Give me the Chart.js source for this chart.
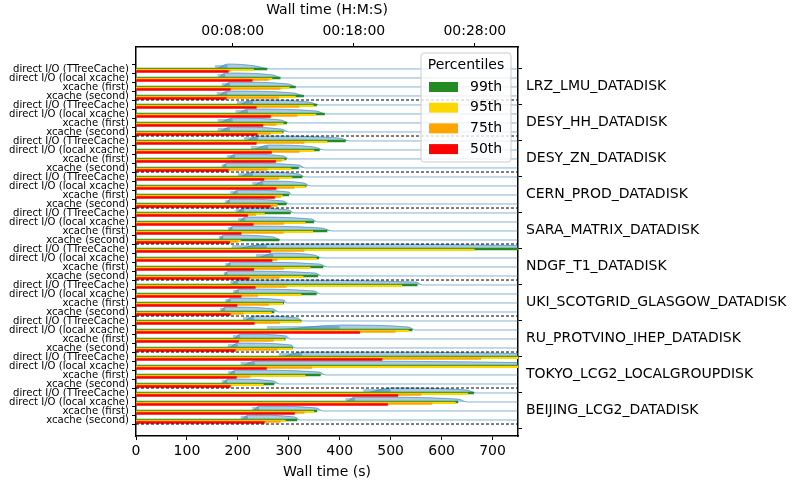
<!DOCTYPE html>
<html>
<head>
<meta charset="utf-8">
<script src="https://cdn.jsdelivr.net/npm/chart.js@4.4.1/dist/chart.umd.min.js"></script>
<style>
  html, body { margin: 0; padding: 0; background: #fff; }
</style>
</head>
<body>
<canvas id="chart" width="795" height="483"></canvas>
<script>
// sites (right axis) and access modes (left axis, repeated for each site)
const sites = ['LRZ_LMU_DATADISK', 'DESY_HH_DATADISK', 'DESY_ZN_DATADISK', 'CERN_PROD_DATADISK',
  'SARA_MATRIX_DATADISK', 'NDGF_T1_DATADISK', 'UKI_SCOTGRID_GLASGOW_DATADISK',
  'RU_PROTVINO_IHEP_DATADISK', 'TOKYO_LCG2_LOCALGROUPDISK', 'BEIJING_LCG2_DATADISK'];
const modes = ['direct I/O (TTreeCache)', 'direct I/O (local xcache)', 'xcache (first)', 'xcache (second)'];

// percentiles of wall time (s), one per row, top to bottom
const p99 = [257, 283, 313, 329, 355, 370, 296, 289, 411, 360, 295, 319, 326, 334, 300, 295, 303, 349, 375, 281,
  800, 359, 367, 357, 552, 354, 290, 271, 324, 542, 293, 307, 820, 800, 362, 271, 663, 632, 355, 316];
const p95 = [231, 267, 301, 313, 348, 353, 289, 287, 375, 349, 291, 304, 306, 332, 287, 277, 252, 332, 347, 205,
  664, 354, 342, 328, 522, 324, 288, 266, 323, 535, 291, 306, 760, 760, 332, 250, 651, 627, 349, 293];
const p75 = [185, 260, 283, 280, 320, 316, 275, 264, 330, 320, 285, 257, 280, 310, 284, 277, 235, 290, 289, 200,
  330, 277, 290, 281, 295, 239, 260, 210, 282, 509, 269, 277, 677, 345, 224, 186, 559, 581, 330, 283];
const p50 = [181, 228, 185, 177, 236, 264, 249, 238, 236, 266, 274, 181, 251, 275, 272, 264, 219, 230, 206, 184,
  264, 267, 231, 222, 234, 206, 198, 185, 232, 439, 201, 195, 483, 256, 197, 185, 514, 494, 311, 252];

// rough outline of each wall time distribution (s): first, mode, end of plateau, last
const distStart = [155, 160, 168, 158, 198, 195, 160, 160, 212, 225, 178, 168, 200, 228, 185, 175, 195, 200, 180, 162,
  188, 235, 175, 172, 185, 190, 175, 165, 210, 257, 190, 180, 280, 205, 180, 168, 446, 411, 228, 205];
const distPeak = [180, 175, 185, 180, 230, 220, 190, 185, 240, 260, 195, 178, 230, 250, 200, 185, 212, 215, 190, 172,
  257, 270, 186, 180, 200, 202, 186, 175, 232, 400, 205, 200, 326, 234, 195, 180, 500, 430, 242, 220];
const distFlatEnd = [235, 270, 300, 310, 340, 355, 285, 285, 400, 350, 290, 320, 320, 330, 300, 290, 300, 345, 365, 270,
  800, 350, 360, 352, 550, 350, 290, 270, 318, 535, 295, 305, 800, 800, 360, 270, 650, 632, 355, 312];
const distEnd = [263, 285, 315, 332, 360, 372, 300, 300, 420, 370, 300, 332, 332, 342, 306, 300, 310, 356, 385, 284,
  810, 365, 376, 365, 562, 362, 296, 280, 326, 548, 302, 312, 810, 810, 372, 282, 668, 650, 366, 322];

const histFrom = 155;   // histogram range start (s)
const histTo = 800;
const bottomTicks = [0, 100, 200, 300, 400, 500, 600, 700];
const topTicks = [480, 1080, 1680];

const rowLabels = sites.flatMap(() => modes);
const rowIdx = rowLabels.map((_, i) => i);
const siteTicks = sites.map((_, i) => i * 4 + 1.9);
const separators = sites.map((_, i) => i * 4 + 3.45);

const FONT = 'DejaVu Sans';
const BLUE_FILL = 'rgba(31, 119, 180, 0.38)';
const BLUE_LINE = 'rgba(31, 119, 180, 0.55)';
const BLUE_HIST = 'rgba(31, 119, 180, 0.4)';

function hms(s) {
  const h = Math.floor(s / 3600), m = Math.floor((s % 3600) / 60), sec = Math.round(s % 60);
  return [h, m, sec].map(v => String(v).padStart(2, '0')).join(':');
}

function barSet(label, values, color, offset, order) {
  return {
    type: 'bar',
    label: label,
    data: values.map((v, i) => ({ x: v, y: i + offset })),
    backgroundColor: color,
    borderWidth: 0,
    barThickness: 1.7,
    grouped: false,
    order: order,
    xAxisID: 'x',
    yAxisID: 'y'
  };
}

// smooth outline (kde-like) of each row
const distSets = rowIdx.map(i => ({
  type: 'line',
  indexAxis: 'x',
  data: [
    { x: histFrom, y: i },
    { x: distStart[i], y: i },
    { x: distPeak[i], y: i - 0.55 },
    { x: distFlatEnd[i], y: i - 0.33 },
    { x: distEnd[i], y: i },
    { x: histTo, y: i }
  ],
  borderColor: BLUE_LINE,
  borderWidth: 1,
  backgroundColor: BLUE_FILL,
  fill: { value: i },
  pointRadius: 0,
  cubicInterpolationMode: 'monotone',
  order: 10,
  xAxisID: 'x',
  yAxisID: 'y'
}));

// darker histogram block around the mode
const histSets = rowIdx.map(i => ({
  type: 'line',
  indexAxis: 'x',
  data: [
    { x: distStart[i], y: i },
    { x: distStart[i], y: i - 0.45 },
    { x: distPeak[i], y: i - 0.45 },
    { x: distPeak[i], y: i }
  ],
  borderWidth: 0,
  backgroundColor: BLUE_HIST,
  fill: { value: i },
  pointRadius: 0,
  order: 9,
  xAxisID: 'x',
  yAxisID: 'y'
}));

const sepSets = separators.map(s => ({
  type: 'line',
  indexAxis: 'x',
  data: [{ x: 0, y: s }, { x: 750, y: s }],
  borderColor: '#000',
  borderWidth: 1,
  borderDash: [3, 2],
  pointRadius: 0,
  fill: false,
  order: 1,
  xAxisID: 'x',
  yAxisID: 'y'
}));

const legendItems = [
  { label: '99th', color: '#228b22' },
  { label: '95th', color: '#ffd700' },
  { label: '75th', color: '#ffa500' },
  { label: '50th', color: '#ff0000' }
];

const percentileLegend = {
  id: 'percentileLegend',
  afterDraw(chart) {
    const ctx = chart.ctx;
    const x0 = 421, y0 = 53, w = 90, h = 109;
    ctx.save();
    ctx.beginPath();
    ctx.roundRect(x0, y0, w, h, 3);
    ctx.fillStyle = 'rgba(255,255,255,0.8)';
    ctx.fill();
    ctx.strokeStyle = '#cccccc';
    ctx.lineWidth = 1;
    ctx.stroke();
    ctx.fillStyle = '#000';
    ctx.font = '14px "' + FONT + '"';
    ctx.textAlign = 'center';
    ctx.textBaseline = 'middle';
    ctx.fillText('Percentiles', x0 + w / 2, y0 + 12);
    legendItems.forEach((it, k) => {
      const cy = y0 + 34 + k * 20.7;
      ctx.fillStyle = it.color;
      ctx.fillRect(x0 + 8, cy - 5, 29, 10);
      ctx.fillStyle = '#000';
      ctx.textAlign = 'left';
      ctx.fillText(it.label, x0 + 49, cy);
    });
    ctx.restore();
  }
};

const axisGrid = { display: true, drawOnChartArea: false, drawTicks: true, tickLength: 4, color: '#000', lineWidth: 1 };
const axisBorder = { display: true, color: '#000', width: 1.5 };

new Chart(document.getElementById('chart'), {
  type: 'bar',
  data: {
    datasets: [
      ...distSets,
      ...histSets,
      barSet('99th', p99, '#228b22', 0.0, 8),
      barSet('95th', p95, '#ffd700', 0.1, 7),
      barSet('75th', p75, '#ffa500', 0.19, 6),
      barSet('50th', p50, '#ff0000', 0.28, 5),
      ...sepSets
    ]
  },
  options: {
    responsive: false,
    animation: false,
    indexAxis: 'y',
    layout: { padding: 0 },
    plugins: {
      legend: { display: false },
      tooltip: { enabled: false }
    },
    scales: {
      x: {
        type: 'linear',
        position: 'bottom',
        min: 0,
        max: 750,
        offset: false,
        grid: axisGrid,
        border: axisBorder,
        afterBuildTicks(scale) { scale.ticks = bottomTicks.map(v => ({ value: v })); },
        ticks: { color: '#000', font: { family: FONT, size: 14 }, padding: 3, maxRotation: 0 },
        title: { display: true, text: 'Wall time (s)', color: '#000', font: { family: FONT, size: 14 }, padding: { top: 0, bottom: 2 } },
        afterFit(scale) { scale.height = 47; }
      },
      x2: {
        type: 'linear',
        position: 'top',
        min: 0,
        max: 1894,
        offset: false,
        grid: axisGrid,
        border: axisBorder,
        afterBuildTicks(scale) { scale.ticks = topTicks.map(v => ({ value: v })); },
        ticks: { color: '#000', font: { family: FONT, size: 14 }, padding: 3, maxRotation: 0, callback: v => hms(v) },
        title: { display: true, text: 'Wall time (H:M:S)', color: '#000', font: { family: FONT, size: 14 }, padding: { top: 2, bottom: 0 } },
        afterFit(scale) { scale.height = 47; }
      },
      y: {
        type: 'linear',
        position: 'left',
        reverse: true,
        min: -2.44,
        max: 40.78,
        offset: false,
        grid: axisGrid,
        border: axisBorder,
        afterBuildTicks(scale) { scale.ticks = rowIdx.map(v => ({ value: v })); },
        ticks: { autoSkip: false, color: '#000', font: { family: FONT, size: 10.1 }, padding: 3, callback: v => rowLabels[Math.round(v)] },
        afterFit(scale) { scale.width = 136; }
      },
      y2: {
        type: 'linear',
        position: 'right',
        reverse: true,
        min: -2.44,
        max: 40.78,
        offset: false,
        grid: axisGrid,
        border: axisBorder,
        afterBuildTicks(scale) { scale.ticks = siteTicks.map(v => ({ value: v })); },
        ticks: { autoSkip: false, color: '#000', font: { family: FONT, size: 14 }, padding: 4,
          callback: (v, i) => sites[i] },
        afterFit(scale) { scale.width = 277; }
      }
    }
  },
  plugins: [percentileLegend]
});
</script>
</body>
</html>
